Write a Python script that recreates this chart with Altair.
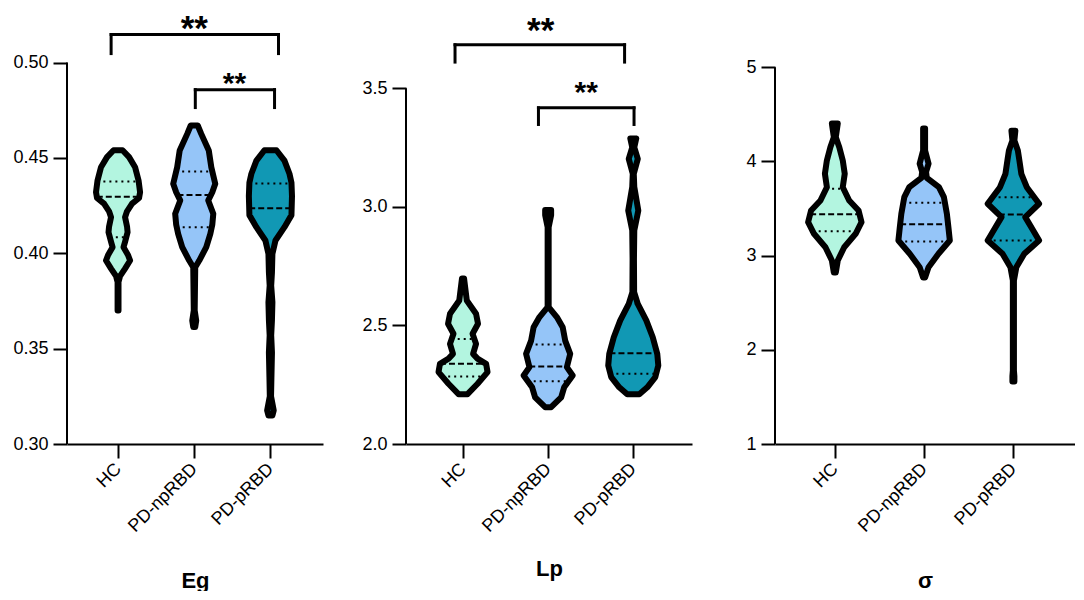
import altair as alt
import pandas as pd
import numpy as np

GROUPS = ["HC", "PD-npRBD", "PD-pRBD"]
COLORS = ["#b3f5e0", "#95c5f8", "#1198b4"]

# ---- Eg violins: value levels and half-widths (fraction of category spacing)
EG_HC_V = [0.370, 0.385, 0.388, 0.392, 0.3962, 0.399, 0.4032, 0.406, 0.411, 0.414, 0.4189, 0.422, 0.426, 0.429, 0.432, 0.438, 0.4451, 0.4504, 0.454]
EG_HC_W = [0.006, 0.006, 0.026, 0.092, 0.158, 0.132, 0.072, 0.092, 0.125, 0.118, 0.092, 0.118, 0.184, 0.276, 0.289, 0.270, 0.224, 0.145, 0.059]
EG_NP_V = [0.3613, 0.3647, 0.370, 0.3927, 0.3962, 0.4032, 0.4102, 0.415, 0.4207, 0.4277, 0.432, 0.4364, 0.4451, 0.4539, 0.4626, 0.467]
EG_NP_W = [0.013, 0.026, 0.006, 0.013, 0.066, 0.158, 0.211, 0.237, 0.250, 0.184, 0.237, 0.276, 0.224, 0.191, 0.092, 0.046]
EG_PR_V = [0.315, 0.3176, 0.325, 0.335, 0.348, 0.357, 0.365, 0.3743, 0.383, 0.390, 0.3997, 0.4067, 0.4137, 0.420, 0.430, 0.437, 0.4417, 0.4486, 0.454]
EG_PR_W = [0.026, 0.043, 0.008, 0.013, 0.020, 0.010, 0.020, 0.026, 0.010, 0.020, 0.026, 0.066, 0.184, 0.276, 0.283, 0.276, 0.250, 0.184, 0.079]
EG_QUART = [(0.4297, 0.4084, 0.4376), (0.4306, 0.4137, 0.4429), (0.4236, 0.4023, 0.4366)]

# ---- Lp violins
LP_HC_V = [2.210, 2.254, 2.303, 2.338, 2.360, 2.380, 2.422, 2.465, 2.507, 2.549, 2.605, 2.698]
LP_HC_W = [0.053, 0.171, 0.288, 0.271, 0.170, 0.118, 0.153, 0.112, 0.176, 0.153, 0.044, 0.012]
LP_NP_V = [2.155, 2.197, 2.239, 2.289, 2.324, 2.380, 2.436, 2.492, 2.535, 2.577, 2.914, 2.965, 2.986]
LP_NP_W = [0.035, 0.153, 0.188, 0.288, 0.220, 0.259, 0.200, 0.171, 0.102, 0.006, 0.006, 0.035, 0.035]
LP_PR_V = [2.210, 2.239, 2.282, 2.331, 2.380, 2.450, 2.521, 2.591, 2.640, 2.780, 2.900, 2.984, 3.083, 3.139, 3.202, 3.251, 3.288]
LP_PR_W = [0.071, 0.165, 0.259, 0.294, 0.282, 0.229, 0.153, 0.053, 0.010, 0.008, 0.012, 0.059, 0.012, 0.006, 0.053, 0.012, 0.035]
LP_QUART = [(2.338, 2.285, 2.443), (2.327, 2.265, 2.419), (2.383, 2.296, 2.591)]

# ---- sigma violins
SG_HC_V = [2.82, 2.948, 3.089, 3.231, 3.355, 3.479, 3.585, 3.726, 3.868, 4.010, 4.151, 4.257, 4.402]
SG_HC_W = [0.011, 0.033, 0.105, 0.233, 0.299, 0.266, 0.161, 0.089, 0.111, 0.089, 0.050, 0.011, 0.033]
SG_NP_V = [2.767, 2.877, 3.019, 3.160, 3.302, 3.444, 3.620, 3.726, 3.826, 3.890, 3.975, 4.116, 4.349]
SG_NP_W = [0.011, 0.050, 0.161, 0.288, 0.272, 0.255, 0.222, 0.166, 0.030, 0.022, 0.050, 0.011, 0.011]
SG_PR_V = [1.663, 1.72, 1.780, 2.736, 2.877, 3.019, 3.160, 3.266, 3.408, 3.550, 3.726, 3.868, 4.010, 4.116, 4.222, 4.325]
SG_PR_W = [0.011, 0.011, 0.006, 0.006, 0.033, 0.122, 0.288, 0.222, 0.133, 0.288, 0.150, 0.089, 0.067, 0.050, 0.011, 0.022]
SG_QUART = [(3.440, 3.259, 3.709), (3.333, 3.150, 3.560), (3.436, 3.160, 3.620)]

# ---- significance brackets (x in category units, y in data units)
EG_BR_X1 = [0.909, 2.014]
EG_BR_X2 = [3.106, 3.054]
EG_BR_TOP = [0.5147, 0.4858]
EG_BR_BOT = [0.5047, 0.4764]
EG_STAR_X = [2.001, 2.527]
EG_STAR_Y = [0.5120, 0.4840]
LP_BR_X1 = [0.906, 1.886]
LP_BR_X2 = [2.898, 3.009]
LP_BR_TOP = [3.683, 3.417]
LP_BR_BOT = [3.610, 3.347]
LP_STAR_X = [1.912, 2.448]
LP_STAR_Y = [3.694, 3.441]
STAR_SIZE = [35, 30]
STAR_TEXT = ["**", "**"]

FONT = "Liberation Sans"
H = 436
XDOM = [0.33, 3.69]


def build_panel(profiles, quarts, ylo, yhi, ytop, yvals, yfmt, width, title, title_y,
                br=None, stars=None):
    rows = []
    for gi, (vals, ws) in enumerate(profiles):
        for v, w in zip(vals, ws):
            rows.append({"group": GROUPS[gi], "idx": gi + 1, "value": v, "w": w})
    vdf = pd.DataFrame(rows).sort_values(["idx", "value"])

    qrows = []
    for gi, (med, q1, q3) in enumerate(quarts):
        vals, ws = profiles[gi]
        order = np.argsort(vals)
        va = np.array(vals)[order]
        wa = np.array(ws)[order]
        for v, kind in ((med, "median"), (q1, "quartile"), (q3, "quartile")):
            qrows.append({"idx": gi + 1, "value": v,
                          "w": float(np.interp(v, va, wa)), "kind": kind})
    qdf = pd.DataFrame(qrows)

    xscale = alt.Scale(domain=XDOM, nice=False, zero=False)
    yscale = alt.Scale(domain=[ylo, ytop], nice=False, zero=False)
    label_expr = "[" + ",".join("'%s'" % g for g in GROUPS) + "][datum.value - 1]"
    xaxis = alt.Axis(values=[1, 2, 3], labelExpr=label_expr, labelAngle=-45,
                     labelAlign="right", labelBaseline="middle", labelFontSize=18,
                     labelPadding=8, labelOverlap=False, labelBound=False,
                     tickSize=14, tickWidth=2, tickColor="black",
                     domainColor="black", domainWidth=2, grid=False, title=title,
                     titleFontSize=22, titleFontWeight="bold", titleY=title_y,
                     titleBaseline="alphabetic", labelColor="black", titleColor="black")
    yaxis = alt.Axis(values=yvals, format=yfmt, domain=False, tickSize=14, tickWidth=2,
                     tickColor="black", labelFontSize=18, labelPadding=5, grid=False,
                     labelOverlap=False, title="", labelColor="black")

    def X(f):
        return alt.X(f, scale=xscale, axis=xaxis, title=title)

    def Y(f):
        return alt.Y(f, scale=yscale, axis=yaxis, title="")

    base = alt.Chart(vdf).transform_calculate(
        xl="datum.idx - datum.w", xr="datum.idx + datum.w")
    fill = base.mark_area(orient="horizontal", strokeWidth=0).encode(
        y=Y("value:Q"), x=X("xl:Q"), x2="xr:Q",
        color=alt.Color("group:N", scale=alt.Scale(domain=GROUPS, range=COLORS), legend=None),
    )
    outline = base.mark_area(orient="horizontal", fillOpacity=0, stroke="black",
                             strokeWidth=6, strokeJoin="round").encode(
        y=Y("value:Q"), x=X("xl:Q"), x2="xr:Q", detail="group:N",
    )
    qbase = alt.Chart(qdf).transform_calculate(
        xl="datum.idx - datum.w", xr="datum.idx + datum.w")
    med = qbase.transform_filter("datum.kind == 'median'").mark_rule(
        strokeDash=[6, 3], strokeWidth=2, color="black").encode(
        y=Y("value:Q"), x=X("xl:Q"), x2="xr:Q")
    qrt = qbase.transform_filter("datum.kind == 'quartile'").mark_rule(
        strokeDash=[2, 4], strokeWidth=2, color="black").encode(
        y=Y("value:Q"), x=X("xl:Q"), x2="xr:Q")

    axis_line = alt.Chart(pd.DataFrame({"lo": [ylo], "hi": [yhi]})).mark_rule(
        color="black", strokeWidth=2).encode(
        x=alt.value(0), y=Y("lo:Q"), y2="hi:Q",
    )
    layers = [fill, med, qrt, outline, axis_line]

    if br is not None:
        bdf = pd.DataFrame({"x1": br[0], "x2": br[1], "top": br[2], "bot": br[3]})
        bb = alt.Chart(bdf)
        rk = dict(color="black", strokeWidth=3, strokeCap="square")
        hbar = bb.mark_rule(**rk).encode(x=X("x1:Q"), x2="x2:Q", y=Y("top:Q"))
        legl = bb.mark_rule(**rk).encode(x=X("x1:Q"), y=Y("top:Q"), y2="bot:Q")
        legr = bb.mark_rule(**rk).encode(x=X("x2:Q"), y=Y("top:Q"), y2="bot:Q")
        layers += [hbar, legl, legr]
    if stars is not None:
        sdf = pd.DataFrame({"x": stars[0], "y": stars[1], "size": STAR_SIZE, "label": STAR_TEXT})
        st = alt.Chart(sdf).mark_text(fontWeight="bold", baseline="alphabetic",
                                      align="center", color="black", font=FONT).encode(
            x=X("x:Q"), y=Y("y:Q"),
            text="label:N",
            size=alt.Size("size:Q", scale=None, legend=None),
        )
        layers.append(st)

    return alt.layer(*layers).properties(width=width, height=H)


p1 = build_panel([(EG_HC_V, EG_HC_W), (EG_NP_V, EG_NP_W), (EG_PR_V, EG_PR_W)], EG_QUART,
                 0.30, 0.50, 0.5286, [0.30, 0.35, 0.40, 0.45, 0.50], ".2f", 256, "Eg", 143,
                 br=(EG_BR_X1, EG_BR_X2, EG_BR_TOP, EG_BR_BOT), stars=(EG_STAR_X, EG_STAR_Y))
p2 = build_panel([(LP_HC_V, LP_HC_W), (LP_NP_V, LP_NP_W), (LP_PR_V, LP_PR_W)], LP_QUART,
                 2.0, 3.5, 3.838, [2.0, 2.5, 3.0, 3.5], ".1f", 286, "Lp", 131,
                 br=(LP_BR_X1, LP_BR_X2, LP_BR_TOP, LP_BR_BOT), stars=(LP_STAR_X, LP_STAR_Y))
p3 = build_panel([(SG_HC_V, SG_HC_W), (SG_NP_V, SG_NP_W), (SG_PR_V, SG_PR_W)], SG_QUART,
                 1.0, 5.0, 5.628, [1, 2, 3, 4, 5], "d", 300, "σ", 143)

chart = alt.hconcat(p1, p2, p3, spacing=83, bounds="flush").properties(
    padding={"left": 4, "top": 0, "right": 0, "bottom": 0}
).configure_view(stroke=None).configure_axis(
    labelFont=FONT, titleFont=FONT
).configure_text(font=FONT)

chart.save("out.html", embed_options={"renderer": "svg", "actions": False})
